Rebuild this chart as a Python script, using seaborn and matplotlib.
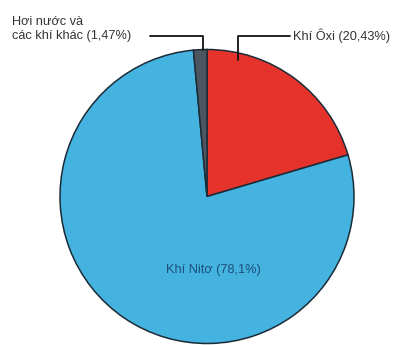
import matplotlib
matplotlib.use('Agg')
import matplotlib.pyplot as plt
import seaborn as sns

sns.set_style('white')
plt.rcParams['font.family'] = ['Liberation Sans', 'DejaVu Sans']

# Data: clockwise from the top
labels = ['Khí Ôxi (20,43%)', 'Khí Nitơ (78,1%)', 'Hơi nước và\ncác khí khác (1,47%)']
values = [20.43, 78.1, 1.47]
colors = ['#e5322b', '#45b3df', '#4b5661']

fig = plt.figure(figsize=(4.06, 3.45), dpi=100)
ax = fig.add_axes([0, 0, 1, 1])

cx, cy, r = 207, 148.5, 147
ax.pie(values, colors=colors, startangle=90, counterclock=False,
       center=(cx, cy), radius=r, frame=True,
       wedgeprops=dict(edgecolor='#1c2b38', linewidth=1.1))
ax.set_xlim(0, 406)
ax.set_ylim(0, 345)
ax.set_aspect('equal')
ax.axis('off')

fs = 9.2
# Nitrogen label inside
ax.text(213, 75, labels[1], ha='center', va='center', fontsize=fs, color='#1d4f78')

# Oxygen leader line and label
ax.plot([238, 238, 290], [285, 309, 309], color='#111111', lw=1.3)
ax.text(293, 309, labels[0], ha='left', va='center', fontsize=fs, color='#333333')

# Others leader line and label
ax.plot([203, 203, 150], [295, 309, 309], color='#111111', lw=1.3)
ax.text(12, 316, labels[2], ha='left', va='center', fontsize=fs, color='#333333',
        linespacing=1.25)

fig.savefig('out.png', dpi=100, facecolor='white')
